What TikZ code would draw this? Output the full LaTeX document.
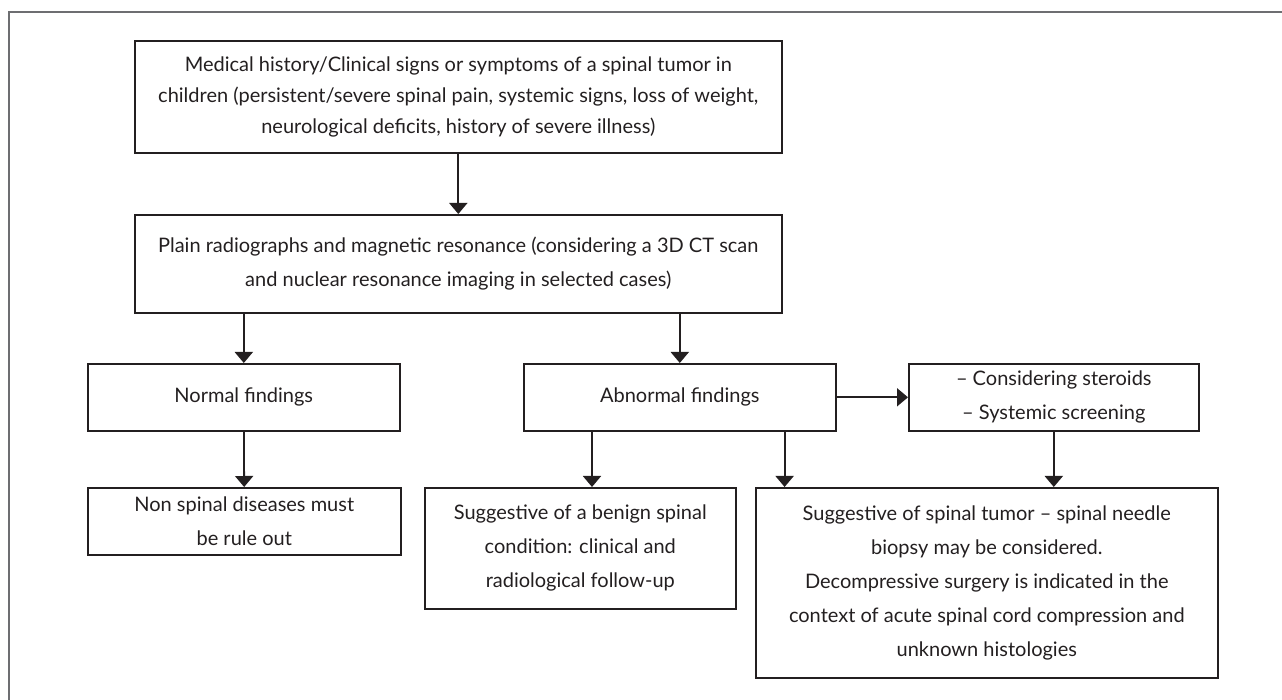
\documentclass[tikz,border=0pt]{standalone}
\usepackage{fontspec}
\setmainfont{Lato}
\usetikzlibrary{arrows.meta,positioning}
\definecolor{ink}{HTML}{231F20}
\definecolor{rule}{HTML}{6D6E71}

\begin{document}
\begin{tikzpicture}[
    x=0.5pt, y=-0.5pt,
    every node/.style={font=\fontsize{10}{17}\selectfont, text=ink},
    box/.style={
        draw=ink, line width=0.8pt,
        align=center, inner sep=0pt,
        anchor=north west
    },
    arr/.style={draw=ink, line width=0.9pt, -{Triangle[width=9pt,length=5.5pt]}}
]
\useasboundingbox (0,0) rectangle (1282,700);
\draw[rule, line width=1.2pt] (9,700) |- (1282,12);

\node[box, minimum width=323.5pt, minimum height=56pt,
      font=\fontsize{10}{15.5}\selectfont] (history) at (134,40)
    {Medical history/Clinical signs or symptoms of a spinal tumor in\\
     children (persistent/severe spinal pain, systemic signs, loss of weight,\\
     neurological deficits, history of severe illness)};
\node[box, minimum width=323.5pt, minimum height=49pt] (imaging) at (134,214)
    {Plain radiographs and magnetic resonance (considering a 3D CT scan\\
     and nuclear resonance imaging in selected cases)};
\node[box, minimum width=156pt, minimum height=33.5pt] (normal) at (87,363) {Normal findings};
\node[box, minimum width=156pt, minimum height=33.5pt] (abnormal) at (523,363) {Abnormal findings};
\node[box, minimum width=145pt, minimum height=33.5pt] (steroids) at (908,363)
    {-- Considering steroids\\ -- Systemic screening};
\node[box, minimum width=156.5pt, minimum height=33.5pt] (nonspinal) at (87,487)
    {Non spinal diseases must\\ be rule out};
\node[box, minimum width=155.5pt, minimum height=60.5pt] (benign) at (424,487)
    {Suggestive of a benign spinal\\ condition: clinical and\\ radiological follow-up};
\node[box, minimum width=231pt, minimum height=95pt] (tumor) at (755,487)
    {Suggestive of spinal tumor -- spinal needle\\ biopsy may be considered.\\
     Decompressive surgery is indicated in the\\
     context of acute spinal cord compression and\\ unknown histologies};

\draw[arr] (history) -- (imaging);
\draw[arr] (imaging.south -| normal) -- (normal);
\draw[arr] (imaging.south -| abnormal) -- (abnormal);
\draw[arr] (abnormal) -- (steroids);
\draw[arr] (normal) -- (nonspinal);
\draw[arr] ([xshift=34.5pt]abnormal.south west) -- ([xshift=34.5pt]abnormal.south west |- benign.north);
\draw[arr] ([xshift=-26pt]abnormal.south east) -- ([xshift=-26pt]abnormal.south east |- tumor.north);
\draw[arr] (steroids) -- (steroids |- tumor.north);
\end{tikzpicture}
\end{document}
